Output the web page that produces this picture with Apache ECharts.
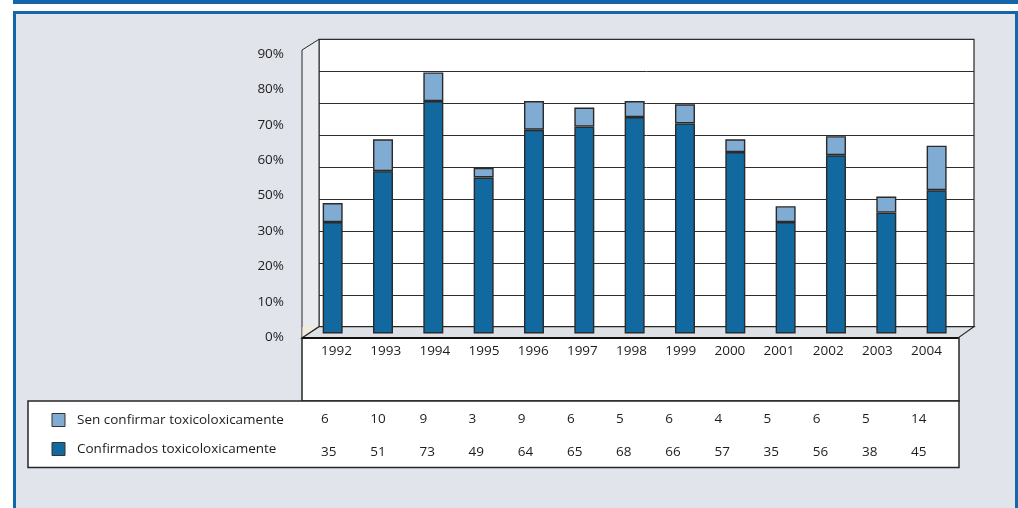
<!DOCTYPE html>
<html>
<head>
<meta charset="utf-8">
<script src="https://cdn.jsdelivr.net/npm/echarts@6/dist/echarts.min.js"></script>
<style>
  html, body { margin: 0; padding: 0; background: #ffffff; }
  #chart { width: 1018px; height: 508px; }
</style>
</head>
<body>
<div id="chart"></div>
<script>
// Years shown on the category axis and as table columns
const years = ['1992', '1993', '1994', '1995', '1996', '1997', '1998', '1999', '2000', '2001', '2002', '2003', '2004'];
// Cases without toxicological confirmation (top segment)
const unconfirmed = [6, 10, 9, 3, 9, 6, 5, 6, 4, 5, 6, 5, 14];
// Toxicologically confirmed cases (bottom segment)
const confirmed = [35, 51, 73, 49, 64, 65, 68, 66, 57, 35, 56, 38, 45];
// Value-axis tick labels as printed
const yTickLabels = ['0%', '10%', '20%', '30%', '50%', '60%', '70%', '80%', '90%'];

const NAME_UNCONF = 'Sen confirmar toxicoloxicamente';
const NAME_CONF = 'Confirmados toxicoloxicamente';

const FONT = '"Open Sans", "Noto Sans", sans-serif';
const TEXT = '#1f1c1d';
const FS = 13.5;
const BLUE = '#1466a9';
const PANEL = '#e1e5eb';
const DARK = '#11699f';
const LIGHT = '#80abd3';
const EDGE = '#262626';

// Layout of the pseudo-3D box
const wall = { left: 319, top: 39.3, right: 974, bottom: 326.7 };
const front = { left: 302, top: 50, right: 958, bottom: 338 };
const labelBox = { left: 302, top: 338, right: 959, bottom: 401 };
const tableBox = { left: 28, top: 401, right: 959, bottom: 467.5 };

const chart = echarts.init(document.getElementById('chart'), null, { renderer: 'canvas' });

const hiddenAxis = (type, gridIndex, extra) => Object.assign({
  type, gridIndex, show: false
}, extra || {});

const tableAxis = (offset, formatter) => ({
  type: 'category', gridIndex: 3, data: years, position: 'bottom', offset,
  z: 6,
  axisLine: { show: false }, axisTick: { show: false }, splitLine: { show: false },
  axisLabel: {
    interval: 0, align: 'left', verticalAlign: 'middle', margin: 11,
    fontFamily: FONT, fontSize: FS, color: TEXT, formatter
  }
});

const option = {
  backgroundColor: '#ffffff',
  animation: false,
  textStyle: { fontFamily: FONT },
  graphic: {
    elements: [
      // heading rule and framed panel
      { type: 'rect', z: -10, shape: { x: 13, y: 0, width: 1010, height: 4 }, style: { fill: BLUE } },
      { type: 'rect', z: -10, shape: { x: 14.5, y: 12.5, width: 1002, height: 600 },
        style: { fill: PANEL, stroke: BLUE, lineWidth: 3 } },
      // left side wall
      { type: 'polygon', z: 1,
        shape: { points: [[front.left, front.top], [wall.left, wall.top], [wall.left, wall.bottom], [front.left, front.bottom]] },
        style: { fill: '#e8eaee', stroke: EDGE, lineWidth: 1 } },
      { type: 'polygon', z: 1,
        shape: { points: [[front.left + 0.5, 327], [316, 327], [front.left + 0.5, 337]] },
        style: { fill: '#f3ead7' } },
      // floor
      { type: 'polygon', z: 1,
        shape: { points: [[front.left, front.bottom], [wall.left, wall.bottom], [wall.right, wall.bottom], [front.right, front.bottom]] },
        style: { fill: '#dde1e6', stroke: EDGE, lineWidth: 1.2 } },
      // category label box and data table
      { type: 'rect', z: 1,
        shape: { x: labelBox.left, y: labelBox.top, width: labelBox.right - labelBox.left, height: labelBox.bottom - labelBox.top },
        style: { fill: '#ffffff', stroke: EDGE, lineWidth: 1.5 } },
      { type: 'rect', z: 1,
        shape: { x: tableBox.left, y: tableBox.top, width: tableBox.right - tableBox.left, height: tableBox.bottom - tableBox.top },
        style: { fill: '#ffffff', stroke: EDGE, lineWidth: 1.5 } },
      { type: 'line', z: 2,
        shape: { x1: front.left, y1: front.bottom, x2: front.right, y2: front.bottom },
        style: { stroke: '#111', lineWidth: 2 } }
    ]
  },
  legend: {
    orient: 'vertical', left: 51.5, top: 413, z: 6, padding: 0,
    itemWidth: 13, itemHeight: 13, itemGap: 15,
    selectedMode: false,
    icon: 'rect',
    data: [NAME_UNCONF, NAME_CONF],
    itemStyle: { borderColor: '#333', borderWidth: 1 },
    textStyle: { fontFamily: FONT, fontSize: FS, color: TEXT, padding: [0, 0, 0, 7] }
  },
  grid: [
    // back wall with gridlines
    { left: wall.left, top: wall.top, width: wall.right - wall.left, height: wall.bottom - wall.top,
      show: true, backgroundColor: '#ffffff', borderColor: EDGE, borderWidth: 1.2 },
    // bars on the front plane
    { left: 307.5, top: 47, width: 654.3, height: 286.5 },
    // value tick labels
    { left: 290, top: 54, width: 5, height: 283.3 },
    // table columns
    { left: 296.5, top: 330, width: 639.2, height: 10 }
  ],
  xAxis: [
    hiddenAxis('category', 0, { data: years }),
    hiddenAxis('category', 1, { data: years }),
    hiddenAxis('value', 2),
    tableAxis(0, v => v),
    tableAxis(68.3, (v, i) => String(unconfirmed[i])),
    tableAxis(100.7, (v, i) => String(confirmed[i]))
  ],
  yAxis: [
    { type: 'value', gridIndex: 0, min: 0, max: 90, interval: 10,
      axisLine: { show: false }, axisTick: { show: false }, axisLabel: { show: false },
      splitLine: { show: true, lineStyle: { color: '#2e2e2e', width: 1 } } },
    hiddenAxis('value', 1, { min: 0, max: 90 }),
    { type: 'category', gridIndex: 2, data: yTickLabels, boundaryGap: false, z: 6,
      axisLine: { show: false }, axisTick: { show: false }, splitLine: { show: false },
      axisLabel: { margin: 6, fontFamily: FONT, fontSize: FS, color: TEXT, interval: 0 } },
    hiddenAxis('value', 3)
  ],
  series: [
    { name: NAME_CONF, type: 'bar', stack: 'cases', xAxisIndex: 1, yAxisIndex: 1,
      barWidth: 20, z: 3, data: confirmed,
      itemStyle: { color: DARK, borderColor: '#2a2a2a', borderWidth: 1.4 } },
    { name: NAME_UNCONF, type: 'bar', stack: 'cases', xAxisIndex: 1, yAxisIndex: 1,
      barWidth: 20, z: 3, data: unconfirmed,
      itemStyle: { color: LIGHT, borderColor: '#2a2a2a', borderWidth: 1.4 } }
  ]
};

chart.setOption(option);
</script>
</body>
</html>
